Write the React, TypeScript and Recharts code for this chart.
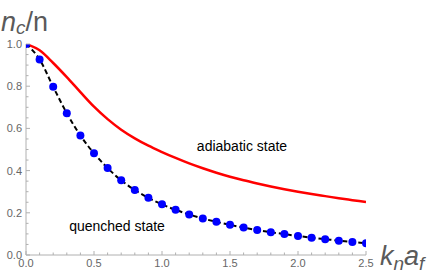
import { ComposedChart, Line, XAxis, YAxis } from 'recharts';

const xValues = [0, 0.1, 0.2, 0.3, 0.4, 0.5, 0.6, 0.7, 0.8, 0.9, 1.0, 1.1, 1.2, 1.3, 1.4, 1.5, 1.6, 1.7, 1.8, 1.9, 2.0, 2.1, 2.2, 2.3, 2.4, 2.5];
const adiabatic = [1.0, 0.97, 0.91, 0.843, 0.772, 0.703, 0.644, 0.594, 0.553, 0.518, 0.488, 0.46, 0.434, 0.411, 0.39, 0.371, 0.354, 0.339, 0.325, 0.312, 0.3, 0.289, 0.279, 0.269, 0.26, 0.251];
const quenched = [1.0, 0.927, 0.797, 0.672, 0.566, 0.482, 0.412, 0.354, 0.308, 0.271, 0.24, 0.214, 0.192, 0.173, 0.157, 0.143, 0.13, 0.118, 0.108, 0.099, 0.09, 0.082, 0.075, 0.068, 0.062, 0.056];

const xTicks = [0, 0.1, 0.2, 0.3, 0.4, 0.5, 0.6, 0.7, 0.8, 0.9, 1.0, 1.1, 1.2, 1.3, 1.4, 1.5, 1.6, 1.7, 1.8, 1.9, 2.0, 2.1, 2.2, 2.3, 2.4, 2.5];
const yTicks = [0, 0.05, 0.1, 0.15, 0.2, 0.25, 0.3, 0.35, 0.4, 0.45, 0.5, 0.55, 0.6, 0.65, 0.7, 0.75, 0.8, 0.85, 0.9, 0.95, 1.0];

const data = xValues.map((x, i) => ({ x, adiabatic: adiabatic[i], quenched: quenched[i] }));

const FONT = '"Liberation Sans", Arial, sans-serif';
const AXIS = '#b0b0b0';
const LABEL = '#666';

const isMultiple = (v: number, step: number) => Math.abs(v / step - Math.round(v / step)) < 1e-6;

const XTick = (props: any) => {
  const { x, y, payload } = props;
  const major = isMultiple(payload.value, 0.5);
  return (
    <g>
      <line x1={x} y1={y} x2={x} y2={y - (major ? 4 : 2.5)} stroke={AXIS} />
      {major && (
        <text x={x} y={y + 12} textAnchor="middle" fontSize={11} fill={LABEL} fontFamily={FONT}>
          {payload.value.toFixed(1)}
        </text>
      )}
    </g>
  );
};

const YTick = (props: any) => {
  const { x, y, payload } = props;
  const major = isMultiple(payload.value, 0.2);
  return (
    <g>
      <line x1={x} y1={y} x2={x + (major ? 4 : 2.5)} y2={y} stroke={AXIS} />
      {major && (
        <text x={x - 4} y={y + 4} textAnchor="end" fontSize={11} fill={LABEL} fontFamily={FONT}>
          {payload.value.toFixed(1)}
        </text>
      )}
    </g>
  );
};

export default function App() {
  return (
    <div style={{ position: 'absolute', left: 0, top: 0, width: 436, height: 277, background: '#fff' }}>
      <ComposedChart width={436} height={277} data={data} margin={{ top: 44, right: 70, bottom: 0, left: 0 }}>
        <XAxis
          type="number"
          dataKey="x"
          domain={[0, 2.5]}
          ticks={xTicks}
          interval={0}
          allowDataOverflow
          height={22}
          tickSize={0}
          tickMargin={0}
          tickLine={false}
          axisLine={{ stroke: AXIS }}
          tick={<XTick />}
        />
        <YAxis
          type="number"
          domain={[0, 1]}
          ticks={yTicks}
          interval={0}
          allowDataOverflow
          width={26}
          tickSize={0}
          tickMargin={0}
          tickLine={false}
          axisLine={{ stroke: AXIS }}
          tick={<YTick />}
        />
        <Line type="monotone" dataKey="adiabatic" stroke="#ff0000" strokeWidth={2.5} dot={false} isAnimationActive={false} />
        <Line type="monotone" dataKey="quenched" stroke="#000" strokeWidth={2} strokeDasharray="5 3" dot={false} isAnimationActive={false} />
        <Line
          type="monotone"
          dataKey="quenched"
          stroke="none"
          strokeWidth={0}
          dot={{ r: 4, fill: '#0000ff', stroke: 'none' }}
          isAnimationActive={false}
        />
      </ComposedChart>
      <svg width={436} height={277} style={{ position: 'absolute', left: 0, top: 0, pointerEvents: 'none' }}>
        <text x={1} y={31} fontSize={27} fill="#5a5a5a" fontFamily={FONT}>
          <tspan fontStyle="italic">n</tspan>
          <tspan fontStyle="italic" fontSize={19} dy={3}>c</tspan>
          <tspan dy={-3}>/n</tspan>
        </text>
        <text x={380} y={265} fontSize={27} fill="#5a5a5a" fontFamily={FONT} fontStyle="italic">
          <tspan>k</tspan>
          <tspan fontSize={19} dy={5}>n</tspan>
          <tspan dy={-5}>a</tspan>
          <tspan fontSize={19} dy={5}>f</tspan>
        </text>
        <text x={242} y={151} fontSize={14} fill="#000" fontFamily={FONT} textAnchor="middle">adiabatic state</text>
        <text x={117} y={231} fontSize={14} fill="#000" fontFamily={FONT} textAnchor="middle">quenched state</text>
      </svg>
    </div>
  );
}
